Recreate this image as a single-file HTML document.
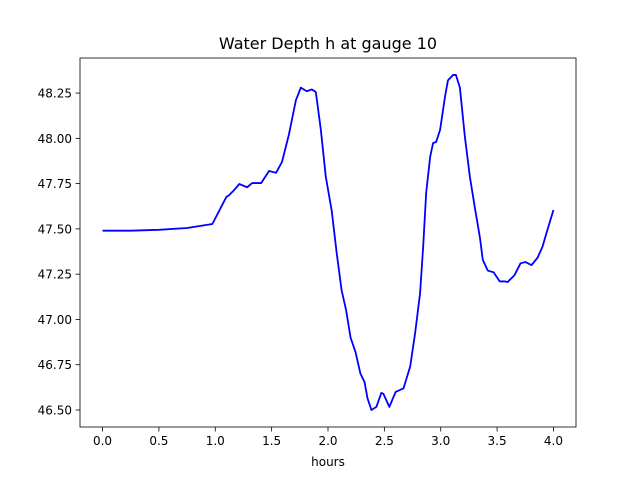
<!DOCTYPE html>
<html><head><meta charset="utf-8"><style>
body{margin:0;background:#fff;}
svg{display:block;font-family:"DejaVu Sans","Liberation Sans",sans-serif;}
</style></head><body>
<svg id="chart" width="640" height="480"></svg>
<script>
const hours=[0,0.25,0.5,0.75,0.974,1.098,1.124,1.168,1.213,1.283,1.327,1.407,1.477,1.539,1.592,1.653,1.715,1.759,1.812,1.856,1.892,1.936,1.980,2.033,2.077,2.121,2.161,2.200,2.244,2.288,2.324,2.350,2.385,2.429,2.473,2.491,2.544,2.6,2.67,2.729,2.773,2.817,2.844,2.871,2.906,2.932,2.959,2.994,3.038,3.064,3.109,3.135,3.17,3.214,3.258,3.302,3.347,3.373,3.417,3.47,3.523,3.567,3.594,3.655,3.708,3.752,3.805,3.858,3.902,3.946,4.0];
const depth=[47.49,47.49,47.495,47.505,47.527,47.676,47.687,47.715,47.748,47.73,47.753,47.753,47.82,47.81,47.87,48.02,48.21,48.28,48.26,48.27,48.256,48.05,47.79,47.60,47.367,47.16,47.05,46.90,46.82,46.70,46.655,46.566,46.5,46.517,46.594,46.59,46.517,46.6,46.62,46.74,46.925,47.146,47.4,47.70,47.897,47.974,47.98,48.046,48.23,48.32,48.35,48.35,48.28,48.01,47.79,47.62,47.455,47.33,47.27,47.26,47.21,47.21,47.207,47.245,47.31,47.317,47.30,47.34,47.40,47.494,47.604];
const xTicks=[0,0.5,1,1.5,2,2.5,3,3.5,4];
const xTickLabels=["0.0","0.5","1.0","1.5","2.0","2.5","3.0","3.5","4.0"];
const yTicks=[46.5,46.75,47,47.25,47.5,47.75,48,48.25];
const yTickLabels=["46.50","46.75","47.00","47.25","47.50","47.75","48.00","48.25"];

const L=80,R=576,T=58,B=427;
const xmin=-0.2,xmax=4.2;
function X(v){return L+(v-xmin)/(xmax-xmin)*(R-L);}
function Y(v){return 410-(v-46.5)*181.1;}
const svg=document.getElementById('chart');
const NS='http://www.w3.org/2000/svg';
function el(t,a){const e=document.createElementNS(NS,t);for(const k in a)e.setAttribute(k,a[k]);svg.appendChild(e);return e;}

let title=el('text',{x:328,y:49,'text-anchor':'middle','font-size':16,fill:'#000'});
title.textContent='Water Depth h at gauge 10';



let d='';
hours.forEach((h,i)=>{d+=(i?'L':'M')+X(h).toFixed(2)+' '+Y(depth[i]).toFixed(2);});
let line=el('path',{d:d,fill:'none',stroke:'#0000ff','stroke-width':1.8,'stroke-linejoin':'round'});



xTicks.forEach((t,i)=>{
  const x=X(t);
  let tk=el('line',{x1:x,x2:x,y1:B,y2:B+4.5,stroke:'#000','stroke-width':0.8});
  
  
  let lb=el('text',{x:x,y:B+18,'text-anchor':'middle','font-size':12,fill:'#000'});
  lb.textContent=xTickLabels[i];
  
  
});
yTicks.forEach((t,i)=>{
  const y=Y(t);
  let tk=el('line',{x1:L-4.5,x2:L,y1:y,y2:y,stroke:'#000','stroke-width':0.8});
  
  
  let lb=el('text',{x:L-8,y:y+4.5,'text-anchor':'end','font-size':12,fill:'#000'});
  lb.textContent=yTickLabels[i];
  
  
});
let frame=el('rect',{x:L,y:T,width:R-L,height:B-T,fill:'none',stroke:'#000','stroke-width':0.8});


let xl=el('text',{x:328,y:466,'text-anchor':'middle','font-size':12,fill:'#000'});
xl.textContent='hours';


</script>
</body></html>
